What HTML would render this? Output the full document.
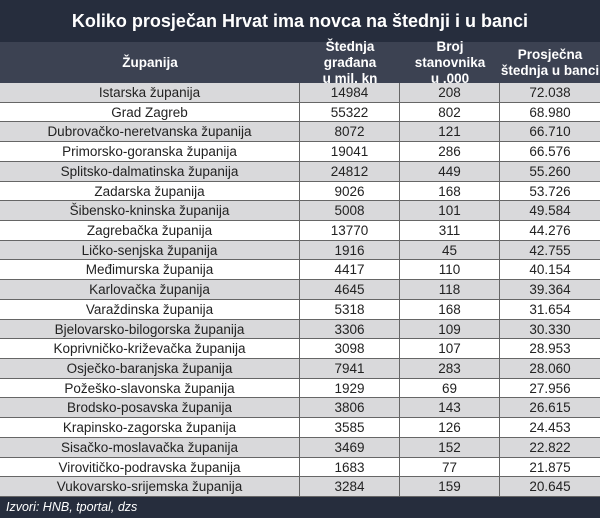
<!DOCTYPE html>
<html><head><meta charset="utf-8"><style>
*{margin:0;padding:0;box-sizing:border-box}
body{width:600px;height:518px;overflow:hidden;background:#fff;font-family:"Liberation Sans Narrow","Liberation Sans",sans-serif;color:#222}
#title{position:absolute;left:0;top:0;width:600px;height:42px;background:#262d3d;color:#fff;font-weight:bold;font-size:18px;line-height:42px;text-align:center}
#head{position:absolute;left:0;top:42px;width:600px;height:41px;background:#3c4252;color:#fff;font-weight:bold;font-size:13.5px}
.h{position:absolute;top:0;height:41px;display:flex;align-items:center;justify-content:center;text-align:center;line-height:16px}
.row{position:absolute;left:0;width:600px;height:19.7px;border-bottom:1px solid #666;font-size:13.5px}
.c{position:absolute;top:0;height:19px;line-height:19px;text-align:center;border-right:1px solid #666}
#foot{position:absolute;left:0;top:497px;width:600px;height:21px;background:#262d3d;color:#fff;font-style:italic;font-size:12.5px;line-height:21px;padding-left:6px}
</style></head><body>
<div id="title">Koliko prosječan Hrvat ima novca na štednji i u banci</div>
<div id="head">
<div class="h" style="left:0;width:300px">Županija</div>
<div class="h" style="left:300px;width:100px">Štednja građana<br>u mil. kn</div>
<div class="h" style="left:400px;width:100px">Broj stanovnika<br>u .000</div>
<div class="h" style="left:500px;width:100px">Prosječna<br>štednja u banci</div>
</div>
<div id="rows"></div>
<div id="foot">Izvori: HNB, tportal, dzs</div>
<script>
const counties=["Istarska županija","Grad Zagreb","Dubrovačko-neretvanska županija","Primorsko-goranska županija","Splitsko-dalmatinska županija","Zadarska županija","Šibensko-kninska županija","Zagrebačka županija","Ličko-senjska županija","Međimurska županija","Karlovačka županija","Varaždinska županija","Bjelovarsko-bilogorska županija","Koprivničko-križevačka županija","Osječko-baranjska županija","Požeško-slavonska županija","Brodsko-posavska županija","Krapinsko-zagorska županija","Sisačko-moslavačka županija","Virovitičko-podravska županija","Vukovarsko-srijemska županija"];
const savings=["14984","55322","8072","19041","24812","9026","5008","13770","1916","4417","4645","5318","3306","3098","7941","1929","3806","3585","3469","1683","3284"];
const population=["208","802","121","286","449","168","101","311","45","110","118","168","109","107","283","69","143","126","152","77","159"];
const average=["72.038","68.980","66.710","66.576","55.260","53.726","49.584","44.276","42.755","40.154","39.364","31.654","30.330","28.953","28.060","27.956","26.615","24.453","22.822","21.875","20.645"];
const rows=document.getElementById('rows');
const rh=(497-83)/counties.length;
counties.forEach((n,i)=>{
  const r=document.createElement('div');
  r.className='row';
  
  
  r.style.top=(83+i*rh)+'px';
  r.style.background=i%2===0?'#d9d9db':'#fff';
  const vals=[n,savings[i],population[i],average[i]];
  const lefts=[0,300,400,500],widths=[300,100,100,100];
  const names=['county-cell','savings-cell','population-cell','average-cell'];
  vals.forEach((v,j)=>{
    const c=document.createElement('div');
    c.className='c';
    
    
    c.style.left=lefts[j]+'px';c.style.width=widths[j]+'px';
    if(j===3)c.style.borderRight='none';
    c.textContent=v;
    r.appendChild(c);
  });
  rows.appendChild(r);
});
</script>
</body></html>
